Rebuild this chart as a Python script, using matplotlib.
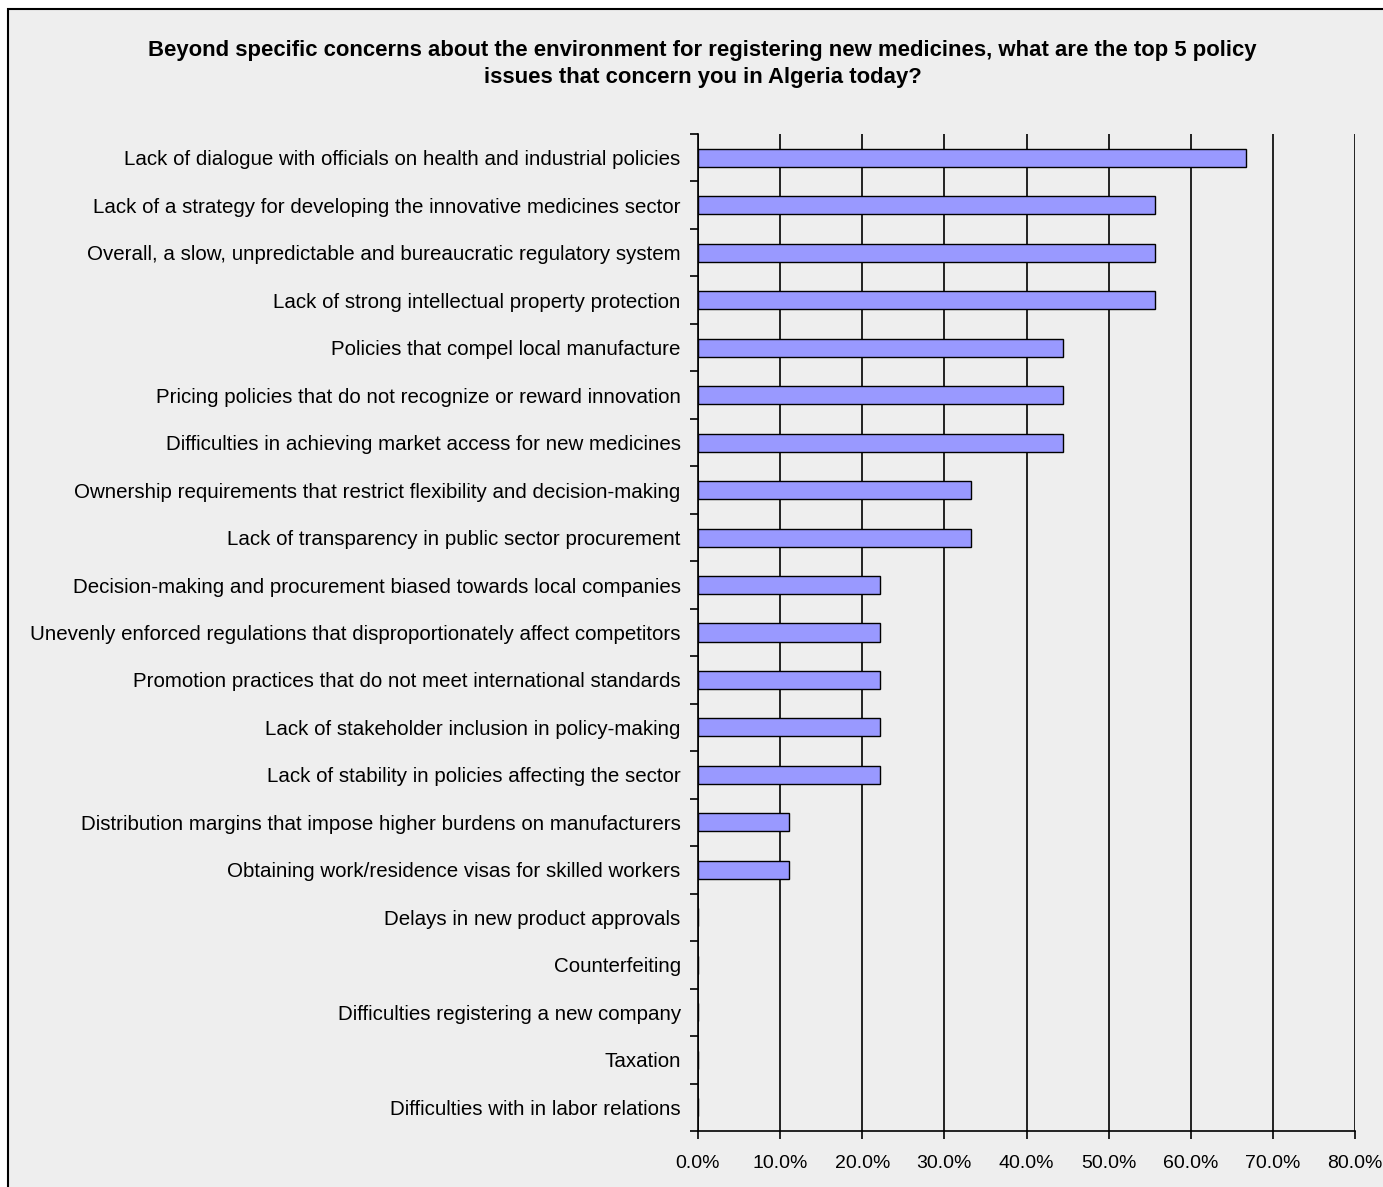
import matplotlib
matplotlib.use("Agg")
import matplotlib.pyplot as plt
from matplotlib.patches import Rectangle
from matplotlib.ticker import FixedLocator, PercentFormatter

plt.rcParams['font.family'] = ['Liberation Sans', 'DejaVu Sans']

title = ("Beyond specific concerns about the environment for registering new medicines, what are the top 5 policy\n"
         "issues that concern you in Algeria today?")

categories = [
    "Lack of dialogue with officials on health and industrial policies",
    "Lack of a strategy for developing the innovative medicines sector",
    "Overall, a slow, unpredictable and bureaucratic regulatory system",
    "Lack of strong intellectual property protection",
    "Policies that compel local manufacture",
    "Pricing policies that do not recognize or reward innovation",
    "Difficulties in achieving market access for new medicines",
    "Ownership requirements that restrict flexibility and decision-making",
    "Lack of transparency in public sector procurement",
    "Decision-making and procurement biased towards local companies",
    "Unevenly enforced regulations that disproportionately affect competitors",
    "Promotion practices that do not meet international standards",
    "Lack of stakeholder inclusion in policy-making",
    "Lack of stability in policies affecting the sector",
    "Distribution margins that impose higher burdens on manufacturers",
    "Obtaining work/residence visas for skilled workers",
    "Delays in new product approvals",
    "Counterfeiting",
    "Difficulties registering a new company",
    "Taxation",
    "Difficulties with in labor relations",
]
values = [66.7, 55.6, 55.6, 55.6, 44.4, 44.4, 44.4, 33.3, 33.3,
          22.2, 22.2, 22.2, 22.2, 22.2, 11.1, 11.1, 0, 0, 0, 0, 0]
xticks = [0, 10, 20, 30, 40, 50, 60, 70, 80]

W, H = 1383, 1187
fig = plt.figure(figsize=(W / 100, H / 100), dpi=100, facecolor='white')
fig.patches.append(Rectangle((8 / W, -0.05), 1.2, 1.05 - 9 / H, transform=fig.transFigure,
                             facecolor='#EEEEEE', edgecolor='black', linewidth=1.5, zorder=-10))

ax = fig.add_axes([698 / W, 56 / H, 657 / W, (1131 - 134) / H])
ax.set_facecolor('none')

n = len(categories)
ypos = list(range(n))
ax.barh(ypos, values, height=0.38, color='#9999FF', edgecolor='black', linewidth=1.0, zorder=3)

ax.set_ylim(n - 0.5, -0.5)
ax.set_xlim(0, 80)
ax.yaxis.set_major_locator(FixedLocator(ypos))
ax.set_yticklabels(categories, fontsize=14.8)
ax.yaxis.set_minor_locator(FixedLocator([i - 0.5 for i in range(n + 1)]))
ax.tick_params(axis='y', which='major', length=0, pad=12.5)
ax.tick_params(axis='y', which='minor', length=6, width=1.2, direction='out')

ax.set_xticks(xticks)
ax.xaxis.set_major_formatter(PercentFormatter(decimals=1))
ax.tick_params(axis='x', length=6, width=1.2, direction='out', labelsize=14, pad=11)

ax.grid(axis='x', color='black', linewidth=1.2, zorder=1)
for s in ['top', 'right']:
    ax.spines[s].set_visible(False)
for s in ['left', 'bottom']:
    ax.spines[s].set_linewidth(1.2)

fig.text((153 + 1252) / 2 / W, 1 - 64 / H, title, ha='center', va='center',
         fontsize=15.9, fontweight='bold', linespacing=1.4)

fig.savefig('out.png', dpi=100, facecolor=fig.get_facecolor())
